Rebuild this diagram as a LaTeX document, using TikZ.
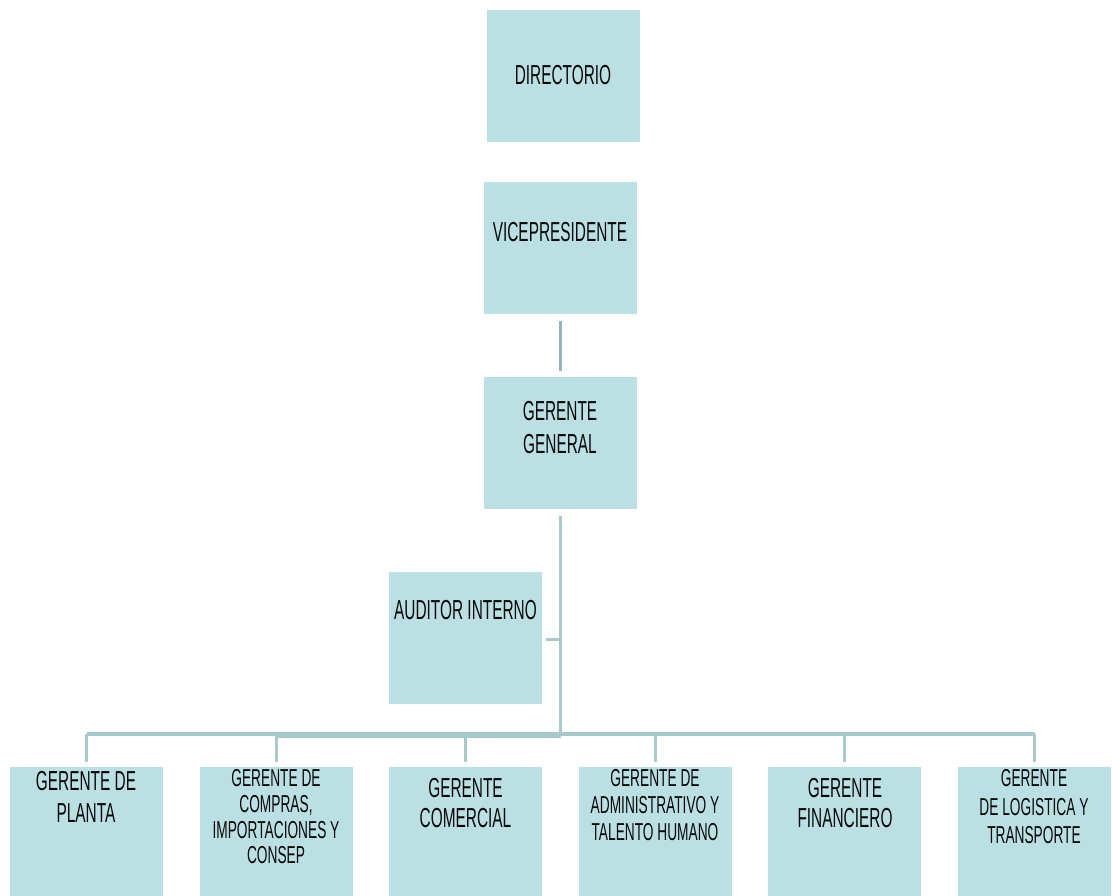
\documentclass[tikz,border=0pt]{standalone}
\usepackage{fontspec}
\setmainfont{Liberation Sans}[FakeStretch=0.6]
\newfontfamily\tallfont{Liberation Sans}[FakeStretch=0.56]
\definecolor{boxfill}{RGB}{186,224,227}
\definecolor{linkc}{RGB}{168,201,204}
\definecolor{linkd}{RGB}{147,181,185}
\definecolor{inkc}{RGB}{8,8,8}
\begin{document}
\begin{tikzpicture}[x=1pt,y=-1pt,
  orgbox/.style={fill=boxfill, draw=none, inner sep=0pt, anchor=north west,
                 minimum width=153pt, minimum height=132pt},
  lowbox/.style={orgbox, minimum height=129pt},
  lbl/.style={inner sep=0pt, anchor=north, align=center, text=inkc},
  big/.style={font=\tallfont\fontsize{27.5}{32}\selectfont},
  conn/.style={draw=linkc, line width=3.5pt},
  conndark/.style={draw=linkd, line width=3pt}]
\useasboundingbox (0,0) rectangle (1112,896);

% upper chain
\node[orgbox] (dir) at (487,10)  {};
\node[orgbox] (vp)  at (484,182) {};
\node[orgbox] (gg)  at (484,377) {};
\node[orgbox] (aud) at (389,572) {};

% managers
\node[lowbox] (p1) at (10,767)  {};
\node[lowbox] (p2) at (200,767) {};
\node[lowbox] (p3) at (389,767) {};
\node[lowbox] (p4) at (579,767) {};
\node[lowbox] (p5) at (768,767) {};
\node[lowbox] (p6) at (958,767) {};

% labels
\node[lbl,big] (tdir) at (563,65.2)  {DIRECTORIO};
\node[lbl,big] (tvp)  at (560,222.2) {VICEPRESIDENTE};
\node[lbl,font=\tallfont\fontsize{27.5}{33}\selectfont] (tgg) at (560,401.2) {GERENTE\\GENERAL};
\node[lbl,big] (taud) at (465.5,600.2) {AUDITOR INTERNO};
\node[lbl,big] (t1) at (86,771.2) {GERENTE DE\\PLANTA};
\node[lbl,font=\tallfont\fontsize{24.5}{25.7}\selectfont] (t2) at (276,769.3) {GERENTE DE\\COMPRAS,\\IMPORTACIONES Y\\CONSEP};
\node[lbl,font=\tallfont\fontsize{27.5}{30}\selectfont] (t3) at (465.5,778.2) {GERENTE\\COMERCIAL};
\node[lbl,font=\tallfont\fontsize{24.5}{27}\selectfont] (t4) at (655,769.3) {GERENTE DE\\ADMINISTRATIVO Y\\TALENTO HUMANO};
\node[lbl,font=\tallfont\fontsize{27.5}{30}\selectfont] (t5) at (845,778.2) {GERENTE\\FINANCIERO};
\node[lbl,font=\tallfont\fontsize{24.5}{28.5}\selectfont] (t6) at (1034,769.3) {GERENTE\\DE LOGISTICA Y\\TRANSPORTE};

% connectors
\draw[conndark] ([yshift=-7pt]vp.south) -- ([yshift=6pt]gg.north);
\coordinate (bus) at ([yshift=-226pt]gg.south);
\draw[conn] ([yshift=-7pt]gg.south) -- (bus);
\draw[conn, line width=3pt] ([xshift=4pt,yshift=-1.5pt]aud.east) -- ([yshift=-1.5pt]aud.east -| gg.south);
\draw[conn, line width=4.5pt] ([yshift=33pt]p1.north) -- ([yshift=33pt]p6.north);
\draw[conn, line width=4pt] ([yshift=31pt]p2.north) -- ([yshift=31pt]p2.north -| bus);
\foreach \p in {p1,p2,p3,p4,p5,p6}
  \draw[conn, line width=3pt] ([yshift=33pt]\p.north) -- ([yshift=5pt]\p.north);
\end{tikzpicture}
\end{document}
